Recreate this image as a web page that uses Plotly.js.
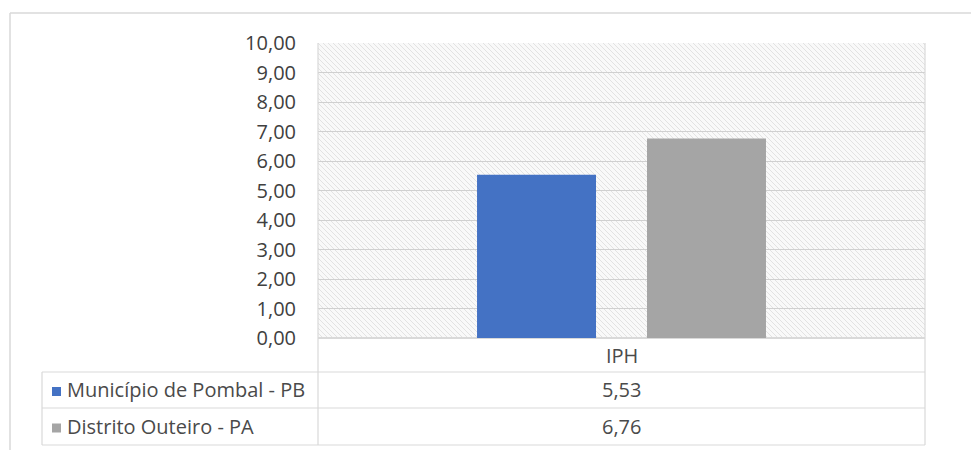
<!DOCTYPE html>
<html>
<head>
<meta charset="utf-8">
<script src="https://cdn.plot.ly/plotly-3.0.1.min.js"></script>
<style>
  html, body { margin: 0; padding: 0; background: #ffffff; }
  #chart { width: 971px; height: 450px; }
</style>
</head>
<body>
<div id="chart"></div>
<script>
// IPH comparison: two localities, one category
const categories = ['IPH'];
const seriesNames = ['Município de Pombal - PB', 'Distrito Outeiro - PA'];
const pombalValues = [5.53];
const outeiroValues = [6.76];
const seriesColors = ['#4472C4', '#A5A5A5'];

// Figure geometry (pixels)
const W = 971, H = 450;
const plotL = 318, plotR = 925, plotT = 43, plotB = 338;
const plotW = plotR - plotL, plotH = plotB - plotT;
const px = x => (x - plotL) / plotW;   // pixel -> paper x
const py = y => (plotB - y) / plotH;   // pixel -> paper y

const textColor = '#4a4a4a';
const lineColor = '#d9d9d9';
const fontFamily = '"Open Sans", "Noto Sans", sans-serif';
const fontSize = 20;

const fmt = v => v.toFixed(2).replace('.', ',');

const traces = [
  { type: 'bar', x: categories, y: pombalValues, name: seriesNames[0],
    marker: { color: seriesColors[0] }, hoverinfo: 'skip' },
  { type: 'bar', x: categories, y: outeiroValues, name: seriesNames[1],
    marker: { color: seriesColors[1] }, hoverinfo: 'skip' }
];

// Data table rows under the plot
const rowTops = [338, 372, 408];
const rowBots = [372, 408, 445];
const shapes = [];
const annotations = [];

// outer chart frame
shapes.push({ type: 'line', xref: 'paper', yref: 'paper', x0: px(10), x1: px(W + 5), y0: py(13), y1: py(13),
  line: { color: lineColor, width: 1.5 } });
shapes.push({ type: 'line', xref: 'paper', yref: 'paper', x0: px(10), x1: px(10), y0: py(13), y1: py(H + 5),
  line: { color: lineColor, width: 1.5 } });

// table horizontal lines
[372, 408, 445].forEach(y => shapes.push({ type: 'line', xref: 'paper', yref: 'paper',
  x0: px(42), x1: px(plotR), y0: py(y), y1: py(y), line: { color: lineColor, width: 1.2 } }));
// table verticals
shapes.push({ type: 'line', xref: 'paper', yref: 'paper', x0: px(42), x1: px(42), y0: py(372), y1: py(445),
  line: { color: lineColor, width: 1.2 } });
shapes.push({ type: 'line', xref: 'paper', yref: 'paper', x0: 0, x1: 0, y0: 1, y1: py(445),
  line: { color: lineColor, width: 1.2 } });
shapes.push({ type: 'line', xref: 'paper', yref: 'paper', x0: 1, x1: 1, y0: 1, y1: py(445),
  line: { color: lineColor, width: 1.2 } });

const cellFont = { family: fontFamily, size: fontSize, color: textColor };

// header row: category names
annotations.push({ xref: 'x', yref: 'paper', x: categories[0], y: py((rowTops[0] + rowBots[0]) / 2),
  xanchor: 'center', yanchor: 'middle', text: categories[0], showarrow: false, font: cellFont });

const seriesValues = [pombalValues, outeiroValues];
seriesNames.forEach((name, i) => {
  const yc = (rowTops[i + 1] + rowBots[i + 1]) / 2;
  // legend key
  shapes.push({ type: 'rect', xref: 'paper', yref: 'paper', x0: px(52), x1: px(61), y0: py(yc - 3), y1: py(yc + 6),
    fillcolor: seriesColors[i], line: { width: 0 } });
  annotations.push({ xref: 'paper', yref: 'paper', x: px(65), y: py(yc), xanchor: 'left', yanchor: 'middle',
    text: name, showarrow: false, font: cellFont });
  annotations.push({ xref: 'x', yref: 'paper', x: categories[0], y: py(yc), xanchor: 'center', yanchor: 'middle',
    text: fmt(seriesValues[i][0]), showarrow: false, font: cellFont });
});

// light diagonal hatching behind the plot area
const hatch = `<svg xmlns="http://www.w3.org/2000/svg" width="${plotW}" height="${plotH}">` +
  `<defs><pattern id="h" width="5" height="5" patternUnits="userSpaceOnUse">` +
  `<rect width="5" height="5" fill="#f9f9f9"/>` +
  `<path d="M-1,-1 L6,6 M-1,4 L1,6 M4,-1 L6,1" stroke="#e2e2e2" stroke-width="1"/></pattern></defs>` +
  `<rect width="${plotW}" height="${plotH}" fill="url(#h)"/></svg>`;

const layout = {
  width: W, height: H,
  margin: { l: plotL, r: W - plotR, t: plotT, b: H - plotB, pad: 0 },
  paper_bgcolor: '#ffffff',
  plot_bgcolor: 'rgba(0,0,0,0)',
  separators: ',.',
  showlegend: false,
  barmode: 'group',
  bargap: 0.44,
  bargroupgap: 0.3,
  font: { family: fontFamily, color: textColor },
  xaxis: { showticklabels: false, showgrid: false, zeroline: false, showline: false, ticks: '' },
  yaxis: {
    range: [0, 10], dtick: 1, tickformat: '.2f',
    showgrid: true, gridcolor: '#d0d0d0', gridwidth: 1,
    zeroline: true, zerolinecolor: lineColor, zerolinewidth: 1.2,
    showline: false, ticks: '', ticklabelstandoff: 21,
    tickfont: { family: fontFamily, size: 20, color: '#404040' }
  },
  images: [{
    source: 'data:image/svg+xml;charset=utf-8,' + encodeURIComponent(hatch),
    xref: 'paper', yref: 'paper', x: 0, y: 1, sizex: 1, sizey: 1,
    sizing: 'stretch', layer: 'below', xanchor: 'left', yanchor: 'top'
  }],
  shapes: shapes,
  annotations: annotations
};

Plotly.newPlot('chart', traces, layout, { displayModeBar: false, staticPlot: true });
</script>
</body>
</html>
